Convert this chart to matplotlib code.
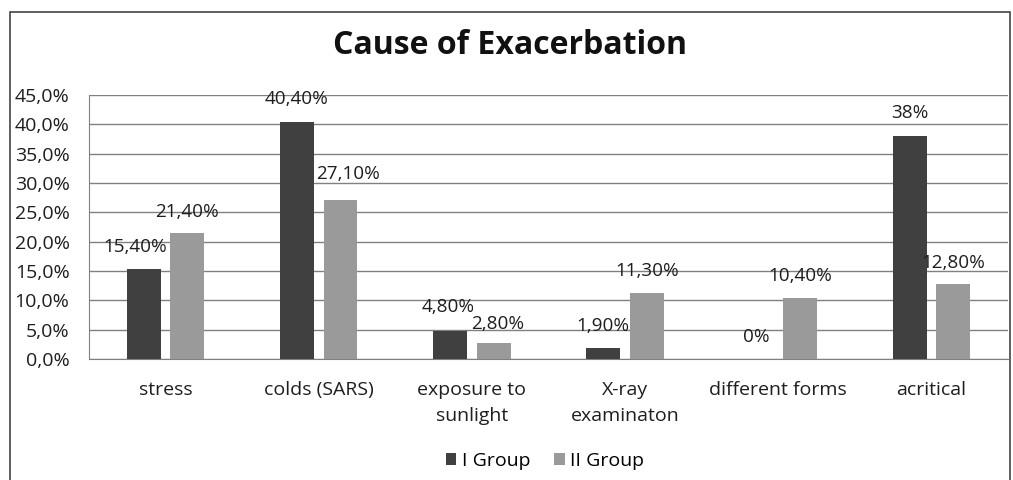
import matplotlib.pyplot as plt
import numpy as np
from matplotlib.patches import Rectangle

plt.rcParams['font.family'] = ['Open Sans', 'DejaVu Sans']

# -------------------------
# DATA
# -------------------------
categories = ["stress", "colds (SARS)", "exposure to\nsunlight",
              "X-ray\nexaminaton", "different forms", "acritical"]
group_1 = [15.4, 40.4, 4.8, 1.9, 0.0, 38.0]
group_2 = [21.4, 27.1, 2.8, 11.3, 10.4, 12.8]
labels_1 = ["15,40%", "40,40%", "4,80%", "1,90%", "0%", "38%"]
labels_2 = ["21,40%", "27,10%", "2,80%", "11,30%", "10,40%", "12,80%"]
series_names = ["I Group", "II Group"]

# label offsets in pixels (dx, dy) from the bar top centre
offs_1 = [(-9, 22), (0, 23), (-2, 24), (0, 22), (0, 22), (0, 23)]
offs_2 = [(0, 21), (8, 26), (4, 19), (0, 22), (0, 22), (0, 21)]

DARK = "#404040"
LIGHT = "#9a9a9a"
TXT = "#1e1e1e"

fig = plt.figure(figsize=(10.13, 4.8), dpi=100)
fig.patches.append(Rectangle((10 / 1013, -0.05), 1000 / 1013, 1.05 - 12 / 480,
                             transform=fig.transFigure, fill=False,
                             edgecolor="#444444", linewidth=1.2))

ax = fig.add_axes([89 / 1013, 1 - 359 / 480, (1008 - 89) / 1013, (359 - 95) / 480])

x = np.arange(len(categories))
w = 0.22
b1 = ax.bar(x - 0.142, group_1, w, color=DARK, label=series_names[0], zorder=3)
b2 = ax.bar(x + 0.142, group_2, w, color=LIGHT, label=series_names[1], zorder=3)

for bars, labs, offs in ((b1, labels_1, offs_1), (b2, labels_2, offs_2)):
    for bar, lab, (dx, dy) in zip(bars, labs, offs):
        ax.annotate(lab, (bar.get_x() + bar.get_width() / 2, bar.get_height()),
                    xytext=(dx * 0.72, dy * 0.72), textcoords="offset points",
                    ha="center", va="center", fontsize=13.6, color=TXT)

ax.set_xlim(-0.5, len(categories) - 0.5)
ax.set_ylim(0, 45)
ax.set_yticks(np.arange(0, 46, 5))
ax.set_yticklabels([f"{v:.1f}%".replace(".", ",") for v in np.arange(0, 46, 5)],
                   fontsize=14, color=TXT)
ax.set_xticks(x)
ax.set_xticklabels(categories, fontsize=14, color=TXT, linespacing=1.55)
ax.tick_params(axis="x", length=0, pad=16)
ax.tick_params(axis="y", length=0, pad=14)
ax.yaxis.grid(True, color="#808080", linewidth=1.0, zorder=0)
ax.set_axisbelow(True)
for s in ("top", "right"):
    ax.spines[s].set_visible(False)
ax.spines["left"].set_color("#808080")
ax.spines["bottom"].set_color("#808080")

fig.text(0.503, 0.905, "Cause of Exacerbation", ha="center", va="center",
         fontsize=23, fontweight="bold", color="#111111")

fig.legend(handles=[b1, b2], labels=series_names, loc="center",
           bbox_to_anchor=(545 / 1013, 1 - 461 / 480), ncol=2, frameon=False,
           fontsize=14, handlelength=0.55, handleheight=0.55,
           handletextpad=0.3, columnspacing=1.2)

fig.savefig("out.png", dpi=100)
